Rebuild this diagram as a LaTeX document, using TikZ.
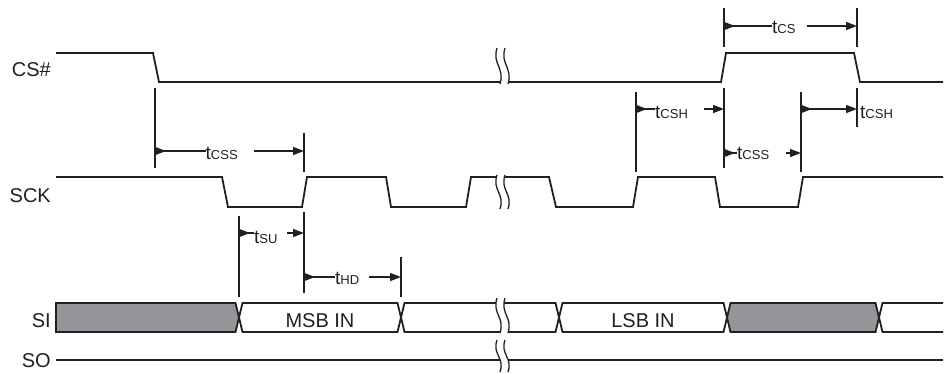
\documentclass[tikz,border=0pt]{standalone}
\usepackage{fontspec}
\setmainfont{Liberation Sans}
\usetikzlibrary{arrows.meta}
\definecolor{sigline}{RGB}{35,31,32}
\definecolor{graybus}{RGB}{147,149,152}
\newcommand{\subsz}{\fontsize{13}{14}\selectfont}
\newcommand{\brkmark}[2]{%
  \fill[white] (497,#1) .. controls +(-5,0.45*#2) and +(5,-0.45*#2) .. (500,#1+#2)
     -- (508,#1+#2) .. controls +(5,-0.45*#2) and +(-5,0.45*#2) .. (505,#1) -- cycle;
  \draw[brkline] (497,#1) .. controls +(-5,0.45*#2) and +(5,-0.45*#2) .. (500,#1+#2);
  \draw[brkline] (505,#1) .. controls +(-5,0.45*#2) and +(5,-0.45*#2) .. (508,#1+#2);
}
\begin{document}
\begin{tikzpicture}[x=1pt,y=-1pt,
  sig/.style={line width=1.8pt, draw=sigline, line join=miter},
  vline/.style={line width=1.8pt, draw=sigline},
  dim/.style={line width=1.5pt, draw=sigline},
  lefttip/.style={dim,{Triangle[reversed,length=11pt,width=8pt]}-},
  righttip/.style={dim,-{Triangle[length=11pt,width=8pt]}},
  bothtip/.style={dim,{Triangle[reversed,length=11pt,width=8pt]}-{Triangle[length=11pt,width=8pt]}},
  brkline/.style={line width=1.3pt, draw=sigline},
  signame/.style={font=\fontsize{20}{24}\selectfont, inner sep=0pt, anchor=base east, text=sigline},
  tlab/.style={font=\fontsize{19}{22}\selectfont, inner sep=0pt, anchor=base west, text=sigline},
  buslab/.style={font=\fontsize{20}{24}\selectfont, inner sep=0pt, anchor=base, text=sigline},
  grayseg/.style={sig, fill=graybus},
  whiteseg/.style={sig, fill=white}
]
\useasboundingbox (0,0) rectangle (947,372);

% ---------- signal names ----------
\node[signame] (ncs)  at (51,76)  {CS\#};
\node[signame] (nsck) at (51,202) {SCK};
\node[signame] (nsi)  at (51,327) {SI};
\node[signame] (nso)  at (51,367) {SO};

% ---------- CS# ----------
\draw[sig] (56,53) -- (153,53) -- (159,82) -- (721,82) -- (726,53) -- (854,53) -- (860,82) -- (943,82);

% ---------- SCK ----------
\draw[sig] (56,177) -- (222,177) -- (228,207) -- (302,207) -- (307,177) -- (386,177) -- (391,207)
  -- (466,207) -- (471,177) -- (549,177) -- (556,207) -- (633,207) -- (638,177) -- (715,177)
  -- (720,207) -- (798,207) -- (803,177) -- (943,177);

% ---------- SI ----------
\draw[grayseg] (56,303) -- (235.5,303) -- (239,317.5) -- (235.5,332) -- (56,332) -- cycle;
\draw[whiteseg] (242.5,303) -- (397.5,303) -- (401,317.5) -- (397.5,332) -- (242.5,332) -- (239,317.5) -- cycle;
\draw[whiteseg] (404.5,303) -- (555.5,303) -- (559,317.5) -- (555.5,332) -- (404.5,332) -- (401,317.5) -- cycle;
\draw[whiteseg] (562.5,303) -- (723.5,303) -- (727,317.5) -- (723.5,332) -- (562.5,332) -- (559,317.5) -- cycle;
\draw[grayseg] (730.5,303) -- (875.5,303) -- (879,317.5) -- (875.5,332) -- (730.5,332) -- (727,317.5) -- cycle;
\draw[sig] (943,303) -- (882.5,303) -- (879,317.5) -- (882.5,332) -- (943,332);
\node[buslab] (msb) at (320,327) {MSB IN};
\node[buslab] (lsb) at (643,327) {LSB IN};

% ---------- SO ----------
\draw[sig] (56,360) -- (943,360);

% ---------- break marks ----------
\brkmark{48}{36}
\brkmark{175}{34}
\brkmark{298}{35}
\brkmark{340}{32}

% ---------- reference lines ----------
\draw[vline] (155,88) -- (155,168);
\draw[vline] (304,133) -- (304,172);
\draw[vline] (239,216) -- (239,297);
\draw[vline] (304,212) -- (304,293);
\draw[vline] (401,257) -- (401,297);
\draw[vline] (724,8) -- (724,47);
\draw[vline] (857,8) -- (857,47);
\draw[vline] (636,92) -- (636,172);
\draw[vline] (724,88) -- (724,168);
\draw[vline] (801,92) -- (801,172);
\draw[vline] (857,88) -- (857,127);

% ---------- tCSS (first) ----------
\coordinate (a1L) at (155,151); \coordinate (a1R) at (304,151); \coordinate (a1G) at (254,151);
\node[tlab] (tcss1) at (205.5,159) {t{\subsz CSS}};
\draw[lefttip] (a1L) -- (a1L -| tcss1.west);
\draw[righttip] (a1G) -- (a1R);

% ---------- tCS ----------
\coordinate (a2L) at (724,26); \coordinate (a2R) at (857,26); \coordinate (a2G) at (807,26);
\node[tlab] (tcs) at (772,33) {t{\subsz CS}};
\draw[lefttip] (a2L) -- (a2L -| tcs.west);
\draw[righttip] (a2G) -- (a2R);

% ---------- tCSH (first) ----------
\coordinate (a3L) at (636,109); \coordinate (a3R) at (724,109); \coordinate (a3G) at (704,109);
\node[tlab] (tcsh1) at (655,118) {t{\subsz CSH}};
\draw[lefttip] (a3L) -- (a3L -| tcsh1.west);
\draw[righttip] (a3G) -- (a3R);

% ---------- tCSS (second) ----------
\coordinate (a4L) at (724,153); \coordinate (a4R) at (801,153); \coordinate (a4G) at (786,153);
\node[tlab] (tcss2) at (737,159) {t{\subsz CSS}};
\draw[lefttip] (a4L) -- (a4L -| tcss2.west);
\draw[righttip] (a4G) -- (a4R);

% ---------- tCSH (second) ----------
\coordinate (a5L) at (801,109); \coordinate (a5R) at (857,109);
\node[tlab] (tcsh2) at (860,118) {t{\subsz CSH}};
\draw[bothtip] (a5L) -- (a5R);

% ---------- tSU ----------
\coordinate (a6L) at (239,233); \coordinate (a6R) at (304,233); \coordinate (a6G) at (287,233);
\node[tlab] (tsu) at (254,243) {t{\subsz SU}};
\draw[lefttip] (a6L) -- (a6L -| tsu.west);
\draw[righttip] (a6G) -- (a6R);

% ---------- tHD ----------
\coordinate (a7L) at (304,277); \coordinate (a7R) at (401,277); \coordinate (a7G) at (369,277);
\node[tlab] (thd) at (335,284) {t{\subsz HD}};
\draw[lefttip] (a7L) -- (a7L -| thd.west);
\draw[righttip] (a7G) -- (a7R);
\end{tikzpicture}
\end{document}
